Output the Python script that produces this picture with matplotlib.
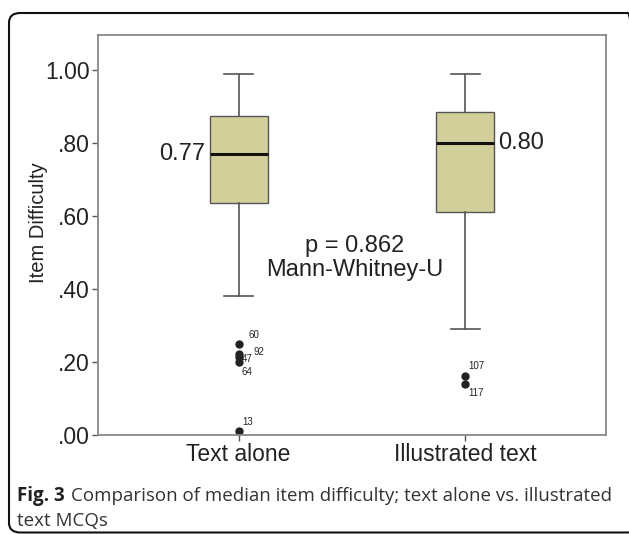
import numpy as np
import matplotlib.pyplot as plt
from matplotlib.patches import FancyBboxPatch

# values
groups = ['Text alone', 'Illustrated text']
medians = [0.77, 0.80]
q1 = [0.635, 0.61]
q3 = [0.875, 0.885]
whis_lo = [0.38, 0.29]
whis_hi = [0.99, 0.99]
out_vals = [[0.25, 0.222, 0.215, 0.20, 0.01], [0.162, 0.14]]
out_ids = [['60', '92', '47', '64', '13'], ['107', '117']]
# pixel offsets of the case labels
out_offsets = [[(10, 9), (15, 2), (3, -2), (3, -10), (4, 9)], [(3, 10), (3, -9)]]

W, H = 629, 534
fig = plt.figure(figsize=(W / 100, H / 100), dpi=100)
ax = fig.add_axes([98 / W, 1 - 435 / H, 508 / W, 400 / H])

stats = []
for i in range(len(groups)):
    stats.append(dict(med=medians[i], q1=q1[i], q3=q3[i], whislo=whis_lo[i],
                      whishi=whis_hi[i], fliers=out_vals[i], label=groups[i]))

ax.bxp(stats, positions=[1, 2], widths=0.255, patch_artist=True,
       boxprops=dict(facecolor='#d3cf9b', edgecolor='#555555', linewidth=1),
       medianprops=dict(color='#111111', linewidth=2.2),
       whiskerprops=dict(color='#555555', linewidth=1.2),
       capprops=dict(color='#555555', linewidth=1.2),
       capwidths=0.128,
       flierprops=dict(marker='o', markerfacecolor='#222222', markeredgecolor='#222222',
                       markersize=5, clip_on=False))

for i in range(len(groups)):
    for v, lab, off in zip(out_vals[i], out_ids[i], out_offsets[i]):
        ax.annotate(lab, (i + 1, v), xytext=off, textcoords='offset pixels',
                    ha='left', va='center', fontsize=7, color='#222222',
                    family='Liberation Sans')

ax.text(1 - 0.145, medians[0], '%.2f' % medians[0], ha='right', va='center',
        fontsize=17, family='Liberation Sans', color='#222222')
ax.text(2 + 0.145, medians[1], '%.2f' % medians[1], ha='left', va='center',
        fontsize=17, family='Liberation Sans', color='#222222')
ax.text(1.51, 0.485, 'p = 0.862\nMann-Whitney-U', ha='center', va='center',
        fontsize=17, family='Liberation Sans', color='#222222', linespacing=1.15)

ax.set_xlim(0.38, 2.62)
ax.set_ylim(0, 1.096)
yt = [0, 0.2, 0.4, 0.6, 0.8, 1.0]
ax.set_yticks(yt)
ax.set_yticklabels(['.00', '.20', '.40', '.60', '.80', '1.00'])
ax.set_xticks([1, 2])
ax.set_xticklabels(groups)
ax.tick_params(axis='both', labelsize=16.5, color='#555555', length=4, width=1,
               labelcolor='#222222', pad=2)
for t in ax.get_xticklabels() + ax.get_yticklabels():
    t.set_family('Liberation Sans')
ax.set_ylabel('Item Difficulty', fontsize=14.5, family='Liberation Sans',
              color='#222222')
ax.yaxis.set_label_coords(-0.098, 0.53)
for s in ax.spines.values():
    s.set_color('#888888')
    s.set_linewidth(1.3)

# outer rounded frame (right edge runs off the picture)
frame = FancyBboxPatch((9 / W, 1.5 / H), 630 / W, 519.5 / H,
                       boxstyle='round,pad=0,rounding_size=0.018',
                       transform=fig.transFigure, fill=False,
                       edgecolor='#111111', linewidth=1.5)
fig.patches.append(frame)

# caption
fig.text(0.027, 0.071, 'Fig. 3', fontsize=13.5, fontweight='bold',
         family='Open Sans', color='#222222', va='center')
fig.text(0.113, 0.071, 'Comparison of median item difficulty; text alone vs. illustrated',
         fontsize=13.5, family='Open Sans', color='#333333', va='center')
fig.text(0.027, 0.024, 'text MCQs', fontsize=13.5, family='Open Sans',
         color='#333333', va='center')

fig.savefig('out.png', dpi=100)
